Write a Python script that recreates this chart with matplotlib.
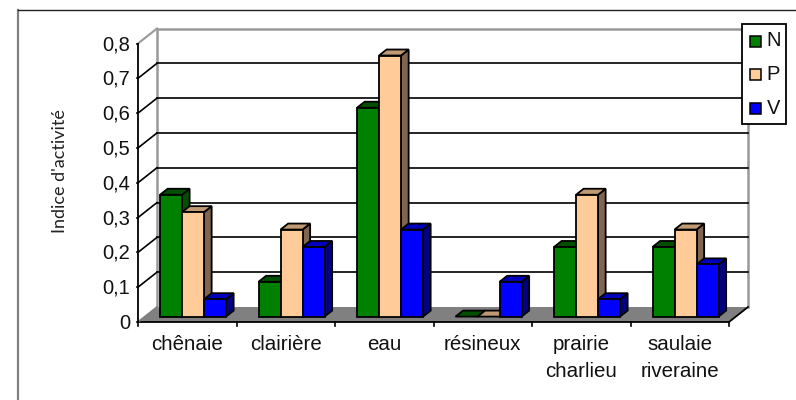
import numpy as np
import matplotlib
matplotlib.use("Agg")
import matplotlib.pyplot as plt
from matplotlib.patches import Polygon, Rectangle

categories = ["chênaie", "clairière", "eau", "résineux", "prairie\ncharlieu", "saulaie\nriveraine"]
series_names = ["N", "P", "V"]
n_values = [0.35, 0.10, 0.60, 0.0, 0.20, 0.20]
p_values = [0.30, 0.25, 0.75, 0.0, 0.35, 0.25]
v_values = [0.05, 0.20, 0.25, 0.10, 0.05, 0.15]
tick_labels = ["0", "0,1", "0,2", "0,3", "0,4", "0,5", "0,6", "0,7", "0,8"]

FACES = {
    "N": ("#008000", "#005000", "#005000"),
    "P": ("#ffcc99", "#c09a73", "#806650"),
    "V": ("#0000ff", "#0000bf", "#000080"),
}

W, H = 796, 400
plt.rcParams["font.family"] = ["Liberation Sans", "DejaVu Sans"]

fig = plt.figure(figsize=(W / 100, H / 100), dpi=100)

# axes covers the front plane of the oblique box
x0, x1, y0, y1 = 138, 729, 322, 43.5
ax = fig.add_axes([x0 / W, 1 - y0 / H, (x1 - x0) / W, (y0 - y1) / H])
ax.set_xlim(0, 6)
ax.set_ylim(0, 0.8)
ax.axis("off")

# depth goes back and to the right
dx = 19 / ((x1 - x0) / 6)
dy = 15 / ((y0 - y1) / 0.8)


def proj(x, y, d=0.0):
    return x + d * dx, y + d * dy


def poly(pts, fc, ec="black", lw=1.3, z=3):
    ax.add_patch(Polygon(pts, closed=True, fc=fc, ec=ec, lw=lw, zorder=z,
                         joinstyle="miter", clip_on=False))


# floor
poly([proj(0, 0), proj(6, 0), proj(6, 0, 1), proj(0, 0, 1)], "#808080", ec="none", z=1)
ax.plot(*zip(proj(0, 0), proj(6, 0), proj(6, 0, 1)), color="black", lw=1.3, zorder=2, clip_on=False)
ax.plot(*zip(proj(0, 0), proj(0, 0, 1)), color="#808080", lw=1.3, zorder=2, clip_on=False)

# back wall
ax.plot(*zip(proj(0, 0, 1), proj(0, 0.8, 1), proj(6, 0.8, 1), proj(6, 0, 1)),
        color="#999999", lw=1.8, zorder=1, clip_on=False)
for t in np.arange(1, 8) / 10:
    ax.plot(*zip(proj(0, t, 1), proj(6, t, 1)), color="black", lw=1.2, zorder=1, clip_on=False)
    ax.plot(*zip(proj(0, t, 0), proj(0, t, 1)), color="black", lw=1.2, zorder=1, clip_on=False)
ax.plot(*zip(proj(0, 0.8, 0), proj(0, 0.8, 1)), color="#999999", lw=1.5, zorder=1, clip_on=False)

# value axis and ticks
ax.plot([0, 0], [0, 0.8], color="black", lw=1.3, zorder=2, clip_on=False)
for i, lab in enumerate(tick_labels):
    t = i / 10
    ax.plot([-0.015, 0], [t, t], color="black", lw=1.2, clip_on=False)
    ax.text(-0.08, t - 0.003, lab, ha="right", va="center", fontsize=14.5, color="#111111")
for i in range(7):
    ax.plot([i, i], [0, -0.012], color="black", lw=1.2, clip_on=False)
for i, lab in enumerate(categories):
    ax.text(i + 0.5, -0.037, lab, ha="center", va="top", fontsize=14.8,
            color="#111111", linespacing=1.55)

ax.text(-0.79, 0.434, "Indice d'activité", rotation=90, ha="center", va="center",
        fontsize=13, family=["Lato", "DejaVu Sans"], color="#222222")

# bars, left to right so each one covers the side of the previous
bar_w = 0.2235
start = 0.154
d_front, d_back = 0.36, 0.76
series = [("N", n_values), ("P", p_values), ("V", v_values)]
for c in range(len(categories)):
    for s, (name, vals) in enumerate(series):
        v = vals[c]
        l, r = c + start + s * bar_w, c + start + (s + 1) * bar_w
        front, top, side = FACES[name]
        z = 3 + c + s * 0.1
        poly([proj(r, 0, d_front), proj(r, 0, d_back), proj(r, v, d_back), proj(r, v, d_front)], side, z=z)
        poly([proj(l, v, d_front), proj(r, v, d_front), proj(r, v, d_back), proj(l, v, d_back)], top, z=z)
        if v > 0:
            poly([proj(l, 0, d_front), proj(r, 0, d_front), proj(r, v, d_front), proj(l, v, d_front)], front, z=z)

# outer frame and legend sit in figure pixels
over = fig.add_axes([0, 0, 1, 1], zorder=20)
over.set_xlim(0, W)
over.set_ylim(H, 0)
over.axis("off")
over.patch.set_alpha(0)
over.plot([18, 18], [H, 10], color="#808080", lw=1.6)
over.plot([18, W], [10, 10], color="#222222", lw=1.0)
over.add_patch(Rectangle((741.5, 23.5), 44, 100, fc="white", ec="black", lw=1.3))
for i, name in enumerate(series_names):
    yc = 41 + i * 33.5
    over.add_patch(Rectangle((749.5, yc - 5.5), 11, 11, fc=FACES[name][0], ec="black", lw=1.1))
    over.text(766.5, yc, name, ha="left", va="center", fontsize=14.5, color="#111111")

fig.savefig("out.png", dpi=100)
